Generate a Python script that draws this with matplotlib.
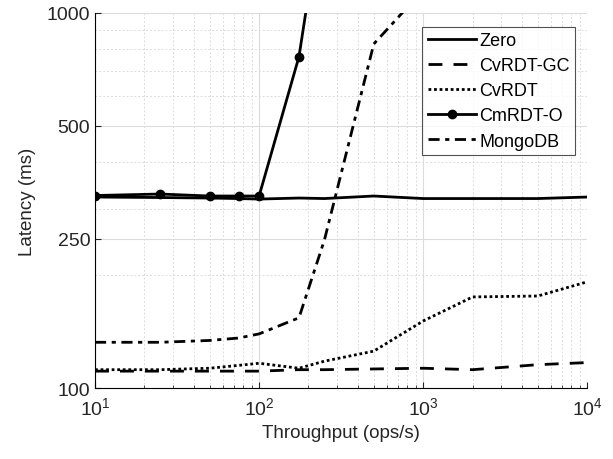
import matplotlib.pyplot as plt
from matplotlib.ticker import FixedLocator, NullFormatter

plt.rcParams['font.family'] = ['Liberation Sans', 'DejaVu Sans']
plt.rcParams['mathtext.fontset'] = 'custom'
plt.rcParams['mathtext.rm'] = 'Liberation Sans'
plt.rcParams['mathtext.it'] = 'Liberation Sans'
plt.rcParams['mathtext.default'] = 'regular'

# throughput (ops/s)
x = [10, 25, 50, 75, 100, 175, 250, 500, 1000, 2000, 5000, 10000]

# latency (ms)
zero = [323, 322, 321, 320, 319, 321, 320, 325, 320, 320, 320, 323]
cvrdt_gc = [111, 111, 111, 111, 111, 112, 112, 112.5, 113, 112, 115.5, 117]
cvrdt = [112, 112, 113, 115, 116.5, 113, 118, 125.5, 151, 175, 176, 192]
cmrdt_x = [10, 25, 50, 75, 100, 175, 250]
cmrdt = [326, 329, 325, 325, 325, 764, 2100]
mongo = [132.5, 132.5, 134, 136, 139.5, 154, 248, 826, 1150, 1150, 1150, 1150]

fig = plt.figure(figsize=(6.13, 4.6), dpi=100)
ax = fig.add_axes([0.155, 0.154, 0.803, 0.816])

lw = 2
ax.plot(x, zero, '-', color='black', lw=lw, label='Zero')
ax.plot(x, cvrdt_gc, '--', color='black', lw=lw, dashes=(5, 4), label='CvRDT-GC')
ax.plot(x, cvrdt, ':', color='black', lw=lw, dashes=(1, 1), label='CvRDT')
ax.plot(cmrdt_x, cmrdt, '-', color='black', lw=lw, marker='o', ms=6,
        label='CmRDT-O')
ax.plot(x, mongo, '-.', color='black', lw=lw, dashes=(4, 2, 1.5, 2), label='MongoDB')

ax.set_xscale('log')
ax.set_yscale('log')
ax.set_xlim(10, 10000)
ax.set_ylim(100, 1000)

ax.yaxis.set_major_locator(FixedLocator([100, 250, 500, 1000]))
ax.yaxis.set_minor_locator(FixedLocator([200, 300, 400, 600, 700, 800, 900]))
ax.set_yticklabels(['100', '250', '500', '1000'])
ax.yaxis.set_minor_formatter(NullFormatter())

ax.grid(True, which='major', color='#dcdcdc', lw=0.8, ls='-')
ax.grid(True, which='minor', color='#dcdcdc', lw=0.7, ls=(0, (2, 2)))
ax.set_axisbelow(True)

ax.spines['top'].set_visible(False)
ax.spines['right'].set_visible(False)
ax.tick_params(which='both', direction='in', labelsize=14, colors='#262626')
ax.tick_params(which='major', length=4)
ax.tick_params(which='minor', length=2.5)
ax.tick_params(axis='y', which='minor', length=0)
ax.tick_params(axis='x', pad=6)

ax.set_xlabel('Throughput (ops/s)', fontsize=13.5, color='#262626', labelpad=4)
ax.set_ylabel('Latency (ms)', fontsize=13.5, color='#262626', labelpad=8)

leg = ax.legend(loc='upper right', bbox_to_anchor=(0.975, 0.963), fontsize=13,
                frameon=True, fancybox=False, edgecolor='#262626',
                handlelength=2.7, handletextpad=0.15, borderpad=0.3,
                labelspacing=0.45, borderaxespad=0.0)
leg.get_frame().set_linewidth(0.8)

fig.savefig('out.png', dpi=100)
